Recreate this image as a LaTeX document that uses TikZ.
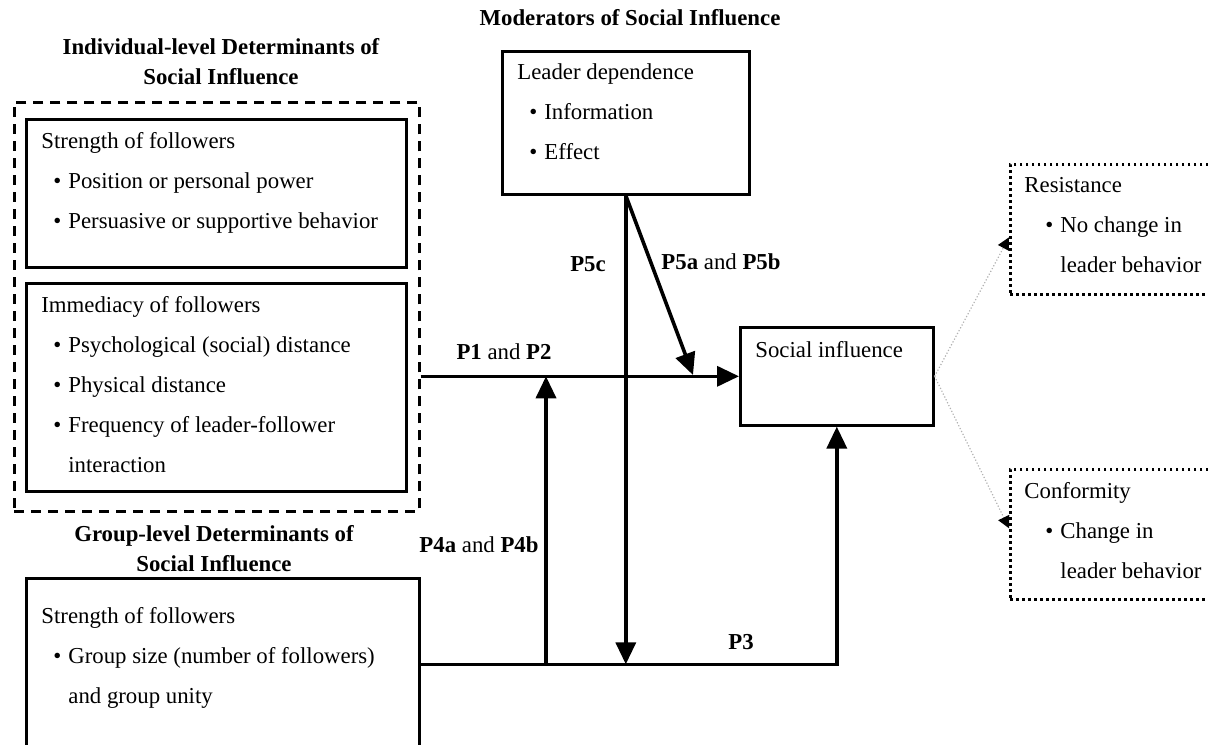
\documentclass[tikz,border=0pt]{standalone}
\usepackage{fontspec}
\setmainfont{Liberation Serif}
\usetikzlibrary{arrows.meta,positioning}
\newcommand{\itm}[2][6pt]{\hspace*{#1}\makebox[7.5pt][l]{\textbullet}#2}

\begin{document}
\begin{tikzpicture}
    [x=0.5pt,y=-0.5pt,
      every node/.style={font=\fontsize{11.4}{20}\selectfont},
      box/.style={draw,line width=1.3pt,anchor=north west,inner sep=0pt},
      outcome/.style={box,dash pattern=on 1.3pt off 1.7pt},
      txt/.style={align=left,inner sep=0pt},
      ttl/.style={align=center,inner sep=0pt,font=\fontsize{11.4}{15}\selectfont\bfseries},
      lbl/.style={inner sep=0pt},
      flow/.style={line width=1.8pt,-{Triangle[length=11pt,width=10pt]}},
      link/.style={gray!60,densely dotted,line width=0.6pt,-{Triangle[length=6pt,width=6pt,color=black]}}
    ]
    \clip (0,0) rectangle (1208,744);

    \node [ttl] (indiv-title) at (221,62) {Individual-level Determinants of\\Social Influence};
    \node [box,dash pattern=on 5pt off 3.5pt,minimum width=202.5pt,minimum height=204.5pt] (indiv) at (13,101) {};
    \node [box,minimum width=190pt,minimum height=74pt] (strength) at (25,118) {};
    \node [txt,below right=7pt and 8pt of strength.north west] (strength-txt)
      {Strength of followers\\ \itm{Position or personal power}\\ \itm{Persuasive or supportive behavior}};
    \node [box,minimum width=190pt,minimum height=104pt] (immed) at (25,282) {};
    \node [txt,below right=7pt and 8pt of immed.north west] (immed-txt)
      {Immediacy of followers\\ \itm{Psychological (social) distance}\\ \itm{Physical distance}\\
       \itm{Frequency of leader-follower}\\ \hspace*{13.5pt}interaction};

    \node [ttl] (group-title) at (214,549) {Group-level Determinants of\\Social Influence};
    \node [box,minimum width=196.5pt,minimum height=86pt] (group) at (25,577) {};
    \node [txt,below right=15pt and 8pt of group.north west] (group-txt)
      {Strength of followers\\ \itm{Group size (number of followers)}\\ \hspace*{13.5pt}and group unity};

    \node [ttl] (mod-title) at (630,18) {Moderators of Social Influence};
    \node [box,minimum width=123.5pt,minimum height=71.5pt] (leader) at (501,50) {};
    \node [txt,below right=6.5pt and 8pt of leader.north west] (leader-txt)
      {Leader dependence\\ \itm{Information}\\ \itm{Effect}};

    \node [box,minimum width=96.5pt,minimum height=49pt] (social) at (739,326) {};
    \node [txt,below right=7.5pt and 8pt of social.north west] (social-txt) {Social influence};

    \node [outcome,minimum width=105.5pt,minimum height=65pt] (resist) at (1009,163) {};
    \node [txt,below right=7pt and 7.5pt of resist.north west] (resist-txt)
      {Resistance\\ \itm[10.5pt]{No change in}\\ \hspace*{18pt}leader behavior};
    \node [outcome,minimum width=105.5pt,minimum height=65pt] (conform) at (1009,468) {};
    \node [txt,below right=7pt and 7.5pt of conform.north west] (conform-txt)
      {Conformity\\ \itm[10.5pt]{Change in}\\ \hspace*{18pt}leader behavior};

    \coordinate (p4-foot) at (546,663);
    \coordinate (p5-end) at (693,375);
    \draw [flow] (indiv.east |- social.west) -- (social.west);
    \draw [flow] (group.east) -| (social.south);
    \draw [flow] (p4-foot) -- (p4-foot |- social.west);
    \draw [flow] (leader.south) -- (leader.south |- group.east);
    \draw [flow] (leader.south) -- (p5-end);
    \draw [link] (social.east) -- ([yshift=-4pt]resist.west);
    \draw [link] (social.east) -- ([yshift=3pt]conform.west);

    \node [lbl] (p12) at (504,352) {\textbf{P1} and \textbf{P2}};
    \node [lbl] (p5c) at (588,264) {\textbf{P5c}};
    \node [lbl] (p5ab) at (721,262) {\textbf{P5a} and \textbf{P5b}};
    \node [lbl] (p4ab) at (479,545) {\textbf{P4a} and \textbf{P4b}};
    \node [lbl] (p3) at (741,642) {\textbf{P3}};
  \end{tikzpicture}
\end{document}
